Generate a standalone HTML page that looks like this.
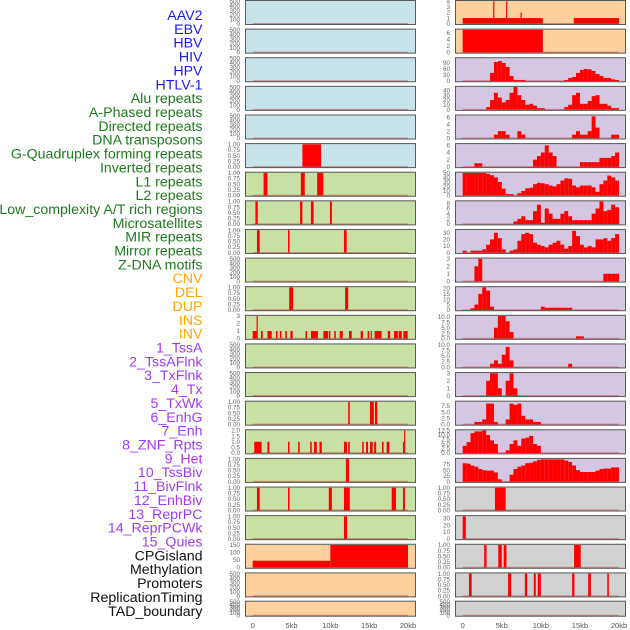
<!DOCTYPE html>
<html><head><meta charset="utf-8">
<style>
html,body{margin:0;padding:0;background:#fff;}
svg{display:block;font-family:"Liberation Sans",sans-serif;}
</style></head>
<body>
<svg id="chart" width="630" height="630" viewBox="0 0 630 630" xmlns="http://www.w3.org/2000/svg"></svg>
<script>
// ---------- data ----------
const trackLabels = ["AAV2","EBV","HBV","HIV","HPV","HTLV-1","Alu repeats","A-Phased repeats","Directed repeats","DNA transposons","G-Quadruplex forming repeats","Inverted repeats","L1 repeats","L2 repeats","Low_complexity A/T rich regions","Microsatellites","MIR repeats","Mirror repeats","Z-DNA motifs","CNV","DEL","DUP","INS","INV","1_TssA","2_TssAFlnk","3_TxFlnk","4_Tx","5_TxWk","6_EnhG","7_Enh","8_ZNF_Rpts","9_Het","10_TssBiv","11_BivFlnk","12_EnhBiv","13_ReprPC","14_ReprPCWk","15_Quies","CPGisland","Methylation","Promoters","ReplicationTiming","TAD_boundary"];
const xTickValues = [0,5,10,15,20];
const xTickLabels = ["0","5kb","10kb","15kb","20kb"];
const countTicks = ["0","100","200","300","400","500"];
const fracTicks = ["0.00","0.25","0.50","0.75","1.00"];

// left column segments [startKb, endKb, value]
const htlv1Segs = [[6.4,8.8,1]];
const aluSegs = [[1.4,1.9,1],[6.2,6.7,1],[8.3,9.1,1]];
const aPhasedSegs = [[0.35,0.65,1],[6.1,6.4,1],[7.5,7.85,1],[9.95,10.2,1]];
const directedSegs = [[0.55,0.9,1],[4.55,4.75,1],[11.75,12.1,1]];
const gQuadSegs = [[4.7,5.2,1],[11.9,12.3,1]];
const invertedSegs = [[0,0.5,1],[0.5,0.65,3],[1.07,1.29,1],[1.9,2.45,1],[3.0,3.2,1],[3.5,3.7,1],[4.2,4.4,1],[4.85,5.15,1],[6.8,7.0,1],[7.5,8.4,1],[9.1,9.7,1],[9.8,10.0,1],[10.5,10.7,1],[11.2,11.6,1],[12.4,12.75,1],[13.9,14.2,1],[14.8,15.0,1],[15.2,15.3,1],[15.7,16.6,1],[17.4,17.7,1],[18.2,18.7,1],[18.8,19.2,1],[19.4,19.96,1]];
const lowCompSegs = [[12.3,12.5,1],[15.1,15.6,1],[15.75,16.05,1]];
const microSegs = [[0.2,1.15,1],[1.9,2.15,1],[4.55,4.75,1],[5.85,6.05,1],[7.4,7.6,1],[7.9,8.25,1],[8.6,8.9,1],[11.75,12.15,1],[12.3,12.5,1],[14.1,14.3,1],[14.6,14.85,1],[15.1,15.45,1],[15.65,15.9,1],[16.65,16.85,1],[17.25,17.6,1],[19.35,19.5,1],[19.5,19.6,2]];
const mirSegs = [[12.0,12.4,1]];
const mirrorSegs = [[0.55,0.9,1],[4.55,4.75,1],[9.8,10.2,1],[11.75,12.5,1],[17.9,18.45,1],[19.35,19.6,1]];
const zdnaSegs = [[11.75,12.15,1]];
const cnvSegs = [[0,10,45],[10,20,150]];
// right column segments
const insSegs = [[0,10.25,1],[3.9,4.05,4],[5.55,5.65,4],[7.4,7.5,2],[14.2,20,1]];
const invSegs = [[0,10.25,7]];
const cpgSegs = [[4.13,5.5,1]];
const methylSegs = [[0,0.4,33]];
const promoterSegs = [[2.75,3.05,1],[4.55,5.0,1],[5.25,5.6,1],[14.25,15.1,1]];
const repTimingSegs = [[0.8,1.15,1],[5.8,6.2,1],[7.95,8.25,1],[9.1,9.35,1],[9.6,10.0,1],[14.0,14.3,1],[16.05,16.4,1],[18.5,18.7,1]];
// right column chromHMM coverage, 0.5kb bins (40 bins)
const tssA =     [0,0,0,0,0,0,0,40,95,100,90,70,25,5,5,5,0,0,0,0,0,0,0,0,0,0,5,15,20,40,55,60,58,50,35,25,15,15,8,5];
const tssAFlnk = [0,0,0,0,0,0,5,20,35,25,15,20,35,47,30,20,10,12,8,3,3,0,0,0,0,0,5,10,30,35,12,12,18,28,30,12,12,8,3,3];
const txFlnk =   [0,0,0,0,0,0,0,0,1,2,2,1,0,0,2,1,0,0,0,0,0,0,0,0,0,0,0,0,1,2,1,1,2,6.2,3,0,0,0,1,1];
const txCov =    [0,0,0,1,1,0,0,0,0,0,0,0,0,0,0,0,0,0,2,3,4,6,4,3,0,0,0,0,0,0,1.3,1.3,1.3,1.3,1.3,2.5,2.5,2.5,3,4];
const txWk =     [50,50,50,50,50,50,48,45,40,30,15,3,3,0,5,10,16,17,25,28,27,25,22,20,25,33,38,37,22,18,22,22,22,18,8,25,33,44,40,33];
const enhG =     [0,0,0,0,0,0,0,0,0,0,0,0,0,1,2,3,1.5,1.5,5,7.5,0.5,6,4,2,2,4,5,3,1.5,1.5,1.5,1.5,1.5,4,6,8.7,5,5.5,7.5,6.5];
const enh =      [3,0,3,3,3,5,12,20,30,22,5,0,3,5,18,28,30,28,15,12,10,8,12,15,18,12,6,10,33,25,12,8,10,8,20,20,22,18,22,28];
const znf =      [0,0,0,2,3,0,0,0,0,0,0,0,0,0,0,0,0,0,0,0,0,0,0,0,0,0,0,0,0,0,0,0,0,0,0,0,1,1,1,1];
const het =      [0,0,1.5,5,15,21,18,3,0,0,0,0,0,0,0,0,0,0,0,0,3,2,2,2,2,2,2,2,0,0,0,0,0,0,0,0,0,0,0,0];
const tssBiv =   [0,0,0,0,0,0,0,0,5,10.4,10.4,8,3,0,0,0,0,0,0,0,0,0,0,0,0,0,0,0,0,1,1,0,0,0,0,0,0,0,0,0];
const bivFlnk =  [0,0,0,0,0,0,0,1.5,3,1.5,5.5,9,3,0,0,0,0,0,0,0,0,0,0,0,0,0,0,1.5,0,0,0,0,0,0,0,0,0,0,0,0];
const enhBiv =   [0,0,0,0,0,0,2,3,3,1,0,2,3,1,0,0,0,0,0,0,0,0,0,0,0,0,0,0,0,0,0,0,0,0,0,0,0,0,0,0];
const reprPC =   [0,0,0,1,1,2,8.5,8.5,1,0,0,2,8.5,8,8.5,3.5,2,2,1,1,0,0,0,0,0,0,0,0,0,0,0,0,0,0,0,0,0,0,0,0];
const reprPCWk = [4,6,11,12,12,12.5,10,7,5,0,0,1.5,5,7,4,8,8.5,9.5,5,4,0,0,0,0,0,0,0,0,0,0,0,0,0,0,0,0,0,0,0,0];
const quies =    [80,78,70,65,55,50,48,48,40,10,0,0,30,55,65,70,80,82,88,95,97,97,97,97,97,97,92,85,70,50,42,42,42,42,48,55,57,57,62,62];
const binWidthKb = 0.5;

// ---------- layout ----------
const BG = {blue:"#c9e3eb", green:"#c8e0a4", peach:"#fed09e", purple:"#d5c6e1", grey:"#d1d1d1"};
const panels = [
 // left column
 {c:0,r:0,bg:"blue",ymax:500,ticks:countTicks,segs:[]},
 {c:0,r:1,bg:"blue",ymax:500,ticks:countTicks,segs:[]},
 {c:0,r:2,bg:"blue",ymax:500,ticks:countTicks,segs:[]},
 {c:0,r:3,bg:"blue",ymax:500,ticks:countTicks,segs:[]},
 {c:0,r:4,bg:"blue",ymax:500,ticks:countTicks,segs:[]},
 {c:0,r:5,bg:"blue",ymax:1,ticks:fracTicks,segs:htlv1Segs},
 {c:0,r:6,bg:"green",ymax:1,ticks:fracTicks,segs:aluSegs},
 {c:0,r:7,bg:"green",ymax:1,ticks:fracTicks,segs:aPhasedSegs},
 {c:0,r:8,bg:"green",ymax:1,ticks:fracTicks,segs:directedSegs},
 {c:0,r:9,bg:"green",ymax:500,ticks:countTicks,segs:[]},
 {c:0,r:10,bg:"green",ymax:1,ticks:fracTicks,segs:gQuadSegs},
 {c:0,r:11,bg:"green",ymax:3,ticks:["0","1","2","3"],segs:invertedSegs},
 {c:0,r:12,bg:"green",ymax:500,ticks:countTicks,segs:[]},
 {c:0,r:13,bg:"green",ymax:500,ticks:countTicks,segs:[]},
 {c:0,r:14,bg:"green",ymax:1,ticks:fracTicks,segs:lowCompSegs},
 {c:0,r:15,bg:"green",ymax:2,ticks:["0.0","0.5","1.0","1.5","2.0"],segs:microSegs},
 {c:0,r:16,bg:"green",ymax:1,ticks:fracTicks,segs:mirSegs},
 {c:0,r:17,bg:"green",ymax:1,ticks:fracTicks,segs:mirrorSegs},
 {c:0,r:18,bg:"green",ymax:1,ticks:fracTicks,segs:zdnaSegs},
 {c:0,r:19,bg:"peach",ymax:150,ticks:["0","50","100","150"],segs:cnvSegs},
 {c:0,r:20,bg:"peach",ymax:500,ticks:countTicks,segs:[]},
 {c:0,r:21,bg:"peach",ymax:500,ticks:countTicks,segs:[]},
 // right column
 {c:1,r:0,bg:"peach",ymax:4,ticks:["0","1","2","3","4"],segs:insSegs},
 {c:1,r:1,bg:"peach",ymax:7,ticks:["0","2","4","6"],segs:invSegs},
 {c:1,r:2,bg:"purple",ymax:113,ticks:["0","30","60","90"],bins:tssA},
 {c:1,r:3,bg:"purple",ymax:47,ticks:["0","10","20","30","40"],bins:tssAFlnk},
 {c:1,r:4,bg:"purple",ymax:6.4,ticks:["0","2","4","6"],bins:txFlnk},
 {c:1,r:5,bg:"purple",ymax:6.3,ticks:["0","2","4","6"],bins:txCov},
 {c:1,r:6,bg:"purple",ymax:50,ticks:["0","10","20","30","40","50"],bins:txWk},
 {c:1,r:7,bg:"purple",ymax:8.7,ticks:["0","2","4","6","8"],bins:enhG},
 {c:1,r:8,bg:"purple",ymax:34,ticks:["0","10","20","30"],bins:enh},
 {c:1,r:9,bg:"purple",ymax:3,ticks:["0","1","2","3"],bins:znf},
 {c:1,r:10,bg:"purple",ymax:21,ticks:["0","5","10","15","20"],bins:het},
 {c:1,r:11,bg:"purple",ymax:10.4,ticks:["0.0","2.5","5.0","7.5","10.0"],bins:tssBiv},
 {c:1,r:12,bg:"purple",ymax:10,ticks:["0.0","2.5","5.0","7.5","10.0"],bins:bivFlnk},
 {c:1,r:13,bg:"purple",ymax:3,ticks:["0","1","2","3"],bins:enhBiv},
 {c:1,r:14,bg:"purple",ymax:9.2,ticks:["0.0","2.5","5.0","7.5"],bins:reprPC},
 {c:1,r:15,bg:"purple",ymax:12.5,ticks:["0.0","2.5","5.0","7.5","10.0","12.5"],bins:reprPCWk},
 {c:1,r:16,bg:"purple",ymax:98,ticks:["0","25","50","75"],bins:quies},
 {c:1,r:17,bg:"grey",ymax:1,ticks:fracTicks,segs:cpgSegs},
 {c:1,r:18,bg:"grey",ymax:33,ticks:["0","10","20","30"],segs:methylSegs},
 {c:1,r:19,bg:"grey",ymax:1,ticks:fracTicks,segs:promoterSegs},
 {c:1,r:20,bg:"grey",ymax:1,ticks:fracTicks,segs:repTimingSegs},
 {c:1,r:21,bg:"grey",ymax:500,ticks:countTicks,segs:[]}
];

const NS = "http://www.w3.org/2000/svg";
const svg = document.getElementById("chart");
function mk(tag, attrs, parent){
  const e = document.createElementNS(NS, tag);
  for (const k in attrs) e.setAttribute(k, attrs[k]);
  (parent||svg).appendChild(e);
  return e;
}
const colX = [{left:245,right:416,x0:252.7,x20:408.0,tickX:240},{left:455,right:626,x0:462.7,x20:619.0,tickX:450}];
function xScale(c, kb){ const C = colX[c]; return C.x0 + (C.x20 - C.x0) * kb / 20; }
function rowTop(r){ return r < 21 ? r*28.62 : 600.7; }
function rowH(r){ return r < 21 ? 25 : 16; }

// labels
const labelColor = i => i < 6 ? "#1c1cf0" : i < 19 ? "#1f7a1f" : i < 24 ? "#ffa500" : i < 39 ? "#a03cf0" : "#111";
trackLabels.forEach((t,i)=>{
  const el = mk("text",{x:202.5,y:15+i*13.855+5,"text-anchor":"end","font-size":"14.2",fill:labelColor(i)});
  el.textContent = t;
  
  
});

// panels
panels.forEach((p, idx)=>{
  const C = colX[p.c];
  const top = rowTop(p.r), h = rowH(p.r), bottom = top + h;
  const y0 = bottom - 1.3, y1 = top + 1.2;
  const yScale = v => y0 - (y0 - y1) * v / p.ymax;
  const g = mk("g",{});
  
  
  const bg = mk("rect",{x:C.left,y:top,width:C.right-C.left,height:h,fill:BG[p.bg]},g);
  
  
  // ticks
  const n = p.ticks.length;
  p.ticks.forEach((t,k)=>{
    const v = parseFloat(t);
    const ty = yScale(v);
    const tl = mk("text",{x:C.tickX,y:ty+2.2,"text-anchor":"end","font-size":"6.3",fill:"#666"},g);
    tl.textContent = t;
    
    
  });
  // baseline
  const bl = mk("line",{x1:xScale(p.c,0),x2:xScale(p.c,20),y1:y0,y2:y0,stroke:"rgba(190,40,40,0.45)","stroke-width":1.4},g);
  
  
  // marks
  const rects = [];
  if (p.segs) p.segs.forEach(s=>rects.push(s));
  if (p.bins) p.bins.forEach((v,i)=>{ if (v>0) rects.push([i*binWidthKb,(i+1)*binWidthKb,v]); });
  rects.forEach(s=>{
    const xa = xScale(p.c,s[0]), xb = xScale(p.c,s[1]);
    const ya = yScale(Math.min(s[2],p.ymax));
    const r = mk("rect",{x:xa,y:ya,width:Math.max(xb-xa,1.2),height:y0-ya,fill:"#ff0000"},g);
    
    
  });
  const bd = mk("rect",{x:C.left+0.5,y:top+0.5,width:C.right-C.left-1,height:h-1,fill:"none",stroke:"#5a5a5a","stroke-width":1},g);
  
  
});

// x axes
[0,1].forEach(c=>{
  xTickValues.forEach((v,k)=>{
    const x = xScale(c,v);
    const t = mk("text",{x:x,y:628,"text-anchor":"middle","font-size":"7.5",fill:"#555"});
    t.textContent = xTickLabels[k];
    
    
  });
});
</script>
</body></html>
